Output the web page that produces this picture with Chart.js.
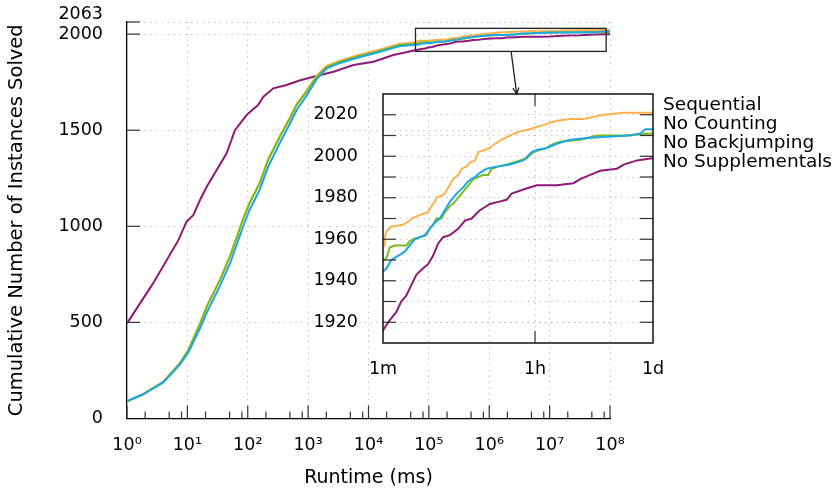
<!DOCTYPE html>
<html>
<head>
<meta charset="utf-8">
<script src="https://cdn.jsdelivr.net/npm/chart.js@4.4.0/dist/chart.umd.min.js"></script>
<style>
  html, body { margin: 0; padding: 0; background: #fff; }
  #wrap { position: relative; width: 838px; height: 491px; }
  #wrap canvas { position: absolute; left: 0; top: 0; }
</style>
</head>
<body>
<div id="wrap">
  <canvas id="mainChart" width="838" height="491"></canvas>
  <canvas id="insetChart" width="838" height="491"></canvas>
</div>
<script>
// 图例名称
const seriesNames = ['Sequential', 'No Counting', 'No Backjumping', 'No Supplementals'];

// 运行时间（ms）和累计求解数量
const seqTime = [1, 1.86, 4, 7.5, 10.4, 16.3, 21, 34.7, 52, 83, 107, 158, 218, 341, 501, 646, 944, 1380, 2040, 3380, 6350, 13500, 33000,
  62000, 63000, 66000, 75000, 103000, 123000, 129000, 169000, 202000, 221000, 242000, 253000, 290000, 317000, 347000, 397000, 455000,
  498000, 569000, 622000, 713000, 780000, 933000, 1069000, 1225000, 1466000, 1837000, 2404000, 3148000, 3639000, 4508000, 6180000,
  9268000, 13300000, 22800000, 39200000, 84100000, 100000000];
const seqSolved = [88, 128, 192, 289, 358, 498, 586, 724, 855, 1036, 1124, 1228, 1350, 1472, 1568, 1638, 1708, 1784, 1836, 1862, 1889, 1915, 1950,
  1957, 1961, 1964, 1966, 1967, 1969, 1970, 1972, 1973, 1976, 1978, 1980, 1981, 1982, 1985, 1989, 1991,
  1994, 1995, 1997, 1998, 2002, 2003, 2004, 2006, 2008, 2010, 2012, 2013, 2014, 2015, 2017,
  2018, 2018, 2020, 2021, 2021, 2021];

const noCountTime = [1, 1.86, 4, 7.5, 10.4, 16.3, 21, 34.7, 52, 83, 107, 158, 218, 341, 501, 646, 944, 1380, 2040, 3380, 6350, 13500, 33000,
  62000, 66000, 75000, 90000, 108000, 123000, 141000, 185000, 211000, 242000, 277000, 317000, 363000, 435000, 520000, 596000,
  713000, 816000, 977000, 1279000, 1837000, 2630000, 3296000, 3767000, 4943000, 6471000, 9268000, 17420000, 46900000, 61400000,
  70300000, 84100000, 100000000];
const noCountSolved = [90, 126, 188, 280, 345, 470, 552, 690, 815, 995, 1085, 1190, 1310, 1435, 1535, 1605, 1680, 1765, 1822, 1850, 1876, 1903, 1938,
  1945, 1946, 1950, 1952, 1954, 1957, 1960, 1962, 1965, 1968, 1970, 1974, 1978, 1982, 1985, 1988,
  1990, 1992, 1994, 1995, 1996, 1998, 2002, 2003, 2004, 2006, 2008, 2009, 2010, 2011,
  2013, 2013, 2013];

const noBjTime = [1, 1.86, 4, 7.5, 10.4, 16.3, 21, 34.7, 52, 83, 107, 158, 218, 341, 501, 646, 944, 1380, 2040, 3380, 6350, 13500, 33000,
  62000, 66000, 72000, 82000, 113000, 123000, 135000, 161000, 193000, 211000, 231000, 253000, 290000, 317000, 347000, 415000,
  498000, 596000, 682000, 780000, 893000, 1021000, 1119000, 1340000, 1675000, 2404000, 2877000, 3444000, 4943000, 5916000,
  7080000, 12160000, 19060000, 39200000, 84100000, 100000000];
const noBjSolved = [88, 127, 191, 287, 356, 495, 582, 720, 850, 1032, 1119, 1223, 1345, 1466, 1562, 1631, 1700, 1778, 1830, 1856, 1882, 1908, 1943,
  1950, 1951, 1956, 1957, 1957, 1959, 1960, 1961, 1962, 1965, 1967, 1970, 1970, 1973, 1975, 1978,
  1982, 1986, 1989, 1990, 1991, 1991, 1994, 1995, 1996, 1998, 1999, 2002, 2004, 2006,
  2007, 2008, 2010, 2010, 2011, 2011];

const noSuppTime = [1, 2.7, 7.1, 9.7, 12.5, 16.2, 20.9, 44.7, 61.4, 95.5, 148, 182, 265, 440, 741, 1230, 2640, 5630, 12100, 25800,
  62000, 72000, 86000, 98000, 113000, 129000, 148000, 177000, 202000, 231000, 265000, 303000, 363000, 455000, 545000, 652000,
  816000, 1069000, 1340000, 1675000, 1919000, 2630000, 3767000, 6471000, 10140000, 12160000, 15920000, 20840000, 32660000,
  39200000, 56100000, 84100000, 100000000];
const noSuppSolved = [495, 703, 928, 1024, 1058, 1137, 1206, 1380, 1500, 1579, 1631, 1674, 1718, 1735, 1760, 1778, 1804, 1839, 1856, 1891,
  1917, 1921, 1925, 1930, 1933, 1938, 1943, 1946, 1948, 1952, 1958, 1961, 1962, 1965, 1969, 1970,
  1974, 1977, 1978, 1979, 1982, 1984, 1986, 1986, 1987, 1989, 1991, 1993, 1994,
  1996, 1998, 1999, 1999];

// 坐标轴刻度
const mainXTicks = [1, 10, 100, 1000, 10000, 100000, 1000000, 10000000, 100000000];
const mainXLabels = ['10\u2070', '10\u00B9', '10\u00B2', '10\u00B3', '10\u2074', '10\u2075', '10\u2076', '10\u2077', '10\u2078'];
const mainYTicks = [0, 500, 1000, 1500, 2000, 2063];
const mainYLabels = ['0', '500', '1000', '1500', '2000', '2063'];
const insetXTicks = [60000, 3600000, 86400000];
const insetXLabels = ['1m', '1h', '1d'];
const insetYTicks = [1910, 1920, 1930, 1940, 1950, 1960, 1970, 1980, 1990, 2000, 2010, 2020, 2030];
const insetYLabels = ['', '1920', '', '1940', '', '1960', '', '1980', '', '2000', '', '2020', ''];

const seriesTimes = [seqTime, noCountTime, noBjTime, noSuppTime];
const seriesSolved = [seqSolved, noCountSolved, noBjSolved, noSuppSolved];
const seriesColors = ['#FFB24C', '#1BA6E6', '#7CBB1E', '#8E1A78'];
const seriesOrder = [3, 1, 2, 4];   // 数字小的画在上面

const FONT = 'DejaVu Sans';
Chart.defaults.font.family = FONT;
Chart.defaults.color = '#000';
Chart.defaults.animation = false;

const GRID = '#b8b8b8';
const DOTS = [1.2, 4.6];

function makeDatasets(width) {
    return seriesNames.map((name, i) => ({
        label: name,
        data: seriesTimes[i].map((t, k) => ({ x: t, y: seriesSolved[i][k] })),
        borderColor: seriesColors[i],
        backgroundColor: seriesColors[i],
        borderWidth: width,
        pointRadius: 0,
        tension: 0,
        order: seriesOrder[i]
    }));
}

function line(ctx, x1, y1, x2, y2) {
    ctx.beginPath();
    ctx.moveTo(x1, y1);
    ctx.lineTo(x2, y2);
    ctx.stroke();
}

// 去掉刻度标签带来的额外留白，让绘图区位置固定
function noPad(s) {
    s.paddingTop = 0;
    s.paddingBottom = 0;
    s.paddingLeft = 0;
    s.paddingRight = 0;
}

// 放大框（主图上的矩形）和箭头
const zoomBox = { xMin: 60000, xMax: 86400000, yMin: 1910, yMax: 2030 };
const arrowFrom = { x: 2300000, y: 1910 };
const arrowTo = { x: 2850000, y: 1688 };

// 主图：向内的刻度、放大框、箭头
const mainDecor = {
    id: 'mainDecor',
    afterDraw(chart) {
        const { ctx, chartArea: a, scales: { x, y } } = chart;
        ctx.save();
        ctx.strokeStyle = '#333';
        ctx.lineWidth = 1.2;
        x.ticks.forEach(t => {
            const px = x.getPixelForValue(t.value);
            const len = mainXTicks.includes(t.value) ? 13 : 7;
            line(ctx, px, a.bottom, px, a.bottom - len);
        });
        y.ticks.forEach(t => {
            if (t.value === 0) return;
            const py = y.getPixelForValue(t.value);
            line(ctx, a.left, py, a.left + 13, py);
        });

        ctx.strokeStyle = '#222';
        ctx.lineWidth = 1.3;
        const bx1 = x.getPixelForValue(zoomBox.xMin), bx2 = x.getPixelForValue(zoomBox.xMax);
        const by1 = y.getPixelForValue(zoomBox.yMax), by2 = y.getPixelForValue(zoomBox.yMin);
        ctx.strokeRect(bx1, by1, bx2 - bx1, by2 - by1);

        const ax1 = x.getPixelForValue(arrowFrom.x), ay1 = y.getPixelForValue(arrowFrom.y);
        const ax2 = x.getPixelForValue(arrowTo.x), ay2 = y.getPixelForValue(arrowTo.y);
        line(ctx, ax1, ay1, ax2, ay2);
        const ang = Math.atan2(ay2 - ay1, ax2 - ax1);
        ctx.beginPath();
        ctx.moveTo(ax2 - 7 * Math.cos(ang - 0.45), ay2 - 7 * Math.sin(ang - 0.45));
        ctx.lineTo(ax2, ay2);
        ctx.lineTo(ax2 - 7 * Math.cos(ang + 0.45), ay2 - 7 * Math.sin(ang + 0.45));
        ctx.stroke();
        ctx.restore();
    }
};

// 小图：边框、刻度、图例文字
const insetDecor = {
    id: 'insetDecor',
    afterDraw(chart) {
        const { ctx, chartArea: a, scales: { x, y } } = chart;
        ctx.save();
        ctx.strokeStyle = '#333';
        ctx.lineWidth = 1.2;
        y.ticks.forEach(t => {
            if (t.value === 1910 || t.value === 2030) return;
            const py = y.getPixelForValue(t.value);
            line(ctx, a.left, py, a.left + 13, py);
            line(ctx, a.right, py, a.right - 13, py);
        });
        const hx = x.getPixelForValue(3600000);
        line(ctx, hx, a.bottom, hx, a.bottom - 12);
        line(ctx, hx, a.top, hx, a.top + 12);

        ctx.strokeStyle = '#111';
        ctx.lineWidth = 1.5;
        ctx.strokeRect(a.left, a.top, a.right - a.left, a.bottom - a.top);

        ctx.fillStyle = '#000';
        ctx.font = '18.5px "' + FONT + '"';
        ctx.textBaseline = 'alphabetic';
        ctx.textAlign = 'left';
        seriesNames.forEach((name, i) => {
            ctx.fillText(name, a.right + 10, a.top + 16 + i * 18.9);
        });
        ctx.restore();
    }
};

// 主图
new Chart(document.getElementById('mainChart'), {
    type: 'line',
    data: { datasets: makeDatasets(2) },
    options: {
        responsive: false,
        layout: { padding: { top: 22, right: 228, left: 0, bottom: 0 } },
        plugins: { legend: { display: false }, tooltip: { enabled: false } },
        scales: {
            x: {
                type: 'logarithmic',
                min: 1,
                max: 100000000,
                afterBuildTicks: s => {
                    const list = [];
                    mainXTicks.forEach(v => {
                        list.push({ value: v });
                        if (v < 100000000) [2, 5, 8].forEach(m => list.push({ value: v * m }));
                    });
                    s.ticks = list;
                },
                afterFit: s => { s.height = 72.5; noPad(s); },
                ticks: {
                    autoSkip: false,
                    maxRotation: 0,
                    padding: 16,
                    font: { size: 17.5 },
                    callback: v => {
                        const i = mainXTicks.indexOf(v);
                        return i >= 0 ? mainXLabels[i] : '';
                    }
                },
                grid: {
                    drawTicks: false,
                    lineWidth: 1,
                    color: c => (c.tick && mainXTicks.includes(c.tick.value) && c.tick.value > 1) ? GRID : 'transparent'
                },
                border: { display: true, color: '#000', width: 1.3, dash: DOTS },
                title: { display: true, text: 'Runtime (ms)', font: { size: 19 }, padding: { top: 0, bottom: 2 } }
            },
            y: {
                type: 'linear',
                min: 0,
                max: 2063,
                afterBuildTicks: s => { s.ticks = mainYTicks.map(v => ({ value: v })); },
                afterFit: s => { s.width = 127; noPad(s); },
                ticks: {
                    autoSkip: false,
                    padding: 24,
                    font: { size: 17.5, lineHeight: 0.85 },
                    callback: v => {
                        const i = mainYTicks.indexOf(v);
                        if (i < 0) return '';
                        return v === 2063 ? [mainYLabels[i], ''] : mainYLabels[i];
                    }
                },
                grid: {
                    drawTicks: false,
                    lineWidth: 1,
                    color: c => (c.tick && c.tick.value > 0) ? GRID : 'transparent'
                },
                border: { display: true, color: '#000', width: 1.3, dash: DOTS },
                title: { display: true, text: 'Cumulative Number of Instances Solved', font: { size: 19.5 }, padding: { top: 5, bottom: 0 } }
            }
        }
    },
    plugins: [mainDecor]
});

// 放大的小图
new Chart(document.getElementById('insetChart'), {
    type: 'line',
    data: { datasets: makeDatasets(2) },
    options: {
        responsive: false,
        layout: { padding: { top: 94, right: 185, left: 0, bottom: 0 } },
        plugins: { legend: { display: false }, tooltip: { enabled: false } },
        scales: {
            x: {
                type: 'logarithmic',
                min: 60000,
                max: 86400000,
                afterBuildTicks: s => { s.ticks = insetXTicks.map(v => ({ value: v })); },
                afterFit: s => { s.height = 148; noPad(s); },
                ticks: {
                    autoSkip: false,
                    maxRotation: 0,
                    padding: 16,
                    font: { size: 17.5 },
                    callback: (v, i) => insetXLabels[i]
                },
                grid: {
                    drawTicks: false,
                    lineWidth: 1,
                    color: c => (c.tick && c.tick.value === 3600000) ? GRID : 'transparent'
                },
                border: { display: false, dash: DOTS }
            },
            y: {
                type: 'linear',
                min: 1910,
                max: 2030,
                afterBuildTicks: s => { s.ticks = insetYTicks.map(v => ({ value: v })); },
                afterFit: s => { s.width = 383; noPad(s); },
                ticks: {
                    autoSkip: false,
                    padding: 25,
                    font: { size: 17.5 },
                    callback: (v, i) => insetYLabels[i]
                },
                grid: {
                    drawTicks: false,
                    lineWidth: 1,
                    color: c => (c.tick && c.tick.value > 1910 && c.tick.value < 2030) ? GRID : 'transparent'
                },
                border: { display: false, dash: DOTS }
            }
        }
    },
    plugins: [insetDecor]
});
</script>
</body>
</html>
